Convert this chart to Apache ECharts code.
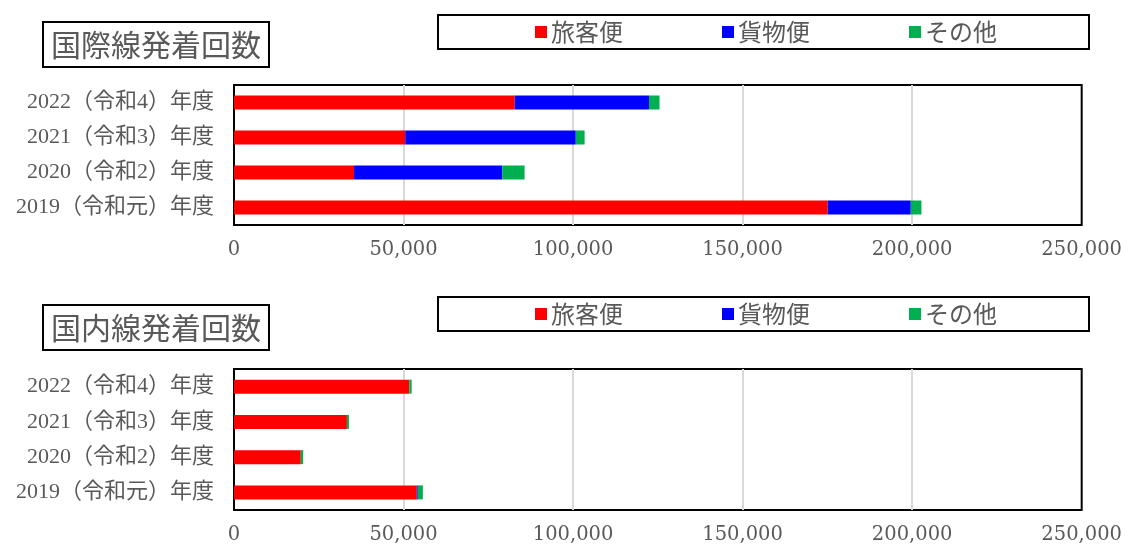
<!DOCTYPE html>
<html><head><meta charset="utf-8">
<script src="https://cdn.jsdelivr.net/npm/echarts@6/dist/echarts.min.js"></script>
<style>html,body{margin:0;padding:0;background:#fff}#c{width:1125px;height:547px}</style>
</head><body><div id="c"></div>
<script>
const categories = ['2019（令和元）年度','2020（令和2）年度','2021（令和3）年度','2022（令和4）年度'];
const seriesNames = ['旅客便','貨物便','その他'];
const intlPassenger = [175100, 35400, 50500, 82800];
const intlCargo     = [24500, 43700, 50300, 39600];
const intlOther     = [3150, 6600, 2600, 3100];
const domPassenger  = [53900, 19700, 33300, 51700];
const domCargo      = [300, 0, 0, 0];
const domOther      = [1500, 700, 600, 700];
const xTicks = [0, 50000, 100000, 150000, 200000, 250000];
const titles = ['国際線発着回数','国内線発着回数'];
const colors = ['#FF0000','#0000FF','#00B050'];

const txt = '#595959';
const cjk = "'Noto Sans CJK JP', 'Noto Sans', sans-serif";
const ynum = "'Liberation Serif', 'Noto Sans CJK JP', serif";
const xnum = "'DejaVu Serif', 'Liberation Serif', serif";
const chart = echarts.init(document.getElementById('c'));
const grids = [
  {left: 234, right: 41, top: 85, height: 140},
  {left: 234, right: 41, top: 369, height: 141}
];
function xAxis(i){
  return {type:'value', gridIndex:i, min:xTicks[0], max:xTicks[xTicks.length-1], interval:xTicks[1]-xTicks[0],
    axisLine:{show:false}, axisTick:{show:false},
    splitLine:{show:true, showMinLine:false, showMaxLine:false, lineStyle:{color:'#d9d9d9', width:2}},
    axisLabel:{margin:15, color:txt, fontSize:19.5, fontFamily:xnum,
      formatter:v=>v.toLocaleString('en-US')}};
}
function yAxis(i){
  return {type:'category', gridIndex:i, data:categories,
    axisLine:{show:false}, axisTick:{show:false},
    axisLabel:{margin:20, color:txt, fontSize:22, fontFamily:ynum}};
}
function legend(top){
  return {top:top, left:438, orient:'horizontal', data:seriesNames,
    icon:'rect', itemWidth:12, itemHeight:12, itemGap:99,
    borderColor:'#000', borderWidth:2, padding:[5,92,5,97], backgroundColor:'#fff',
    textStyle:{color:txt, fontSize:24, lineHeight:24, fontFamily:cjk, padding:[0,0,0,-1]}};
}
const dataSets = [[intlPassenger, intlCargo, intlOther],[domPassenger, domCargo, domOther]];
const series = [];
dataSets.forEach((set, gi) => {
  set.forEach((arr, si) => {
    series.push({name:seriesNames[si], type:'bar', stack:'s'+gi, xAxisIndex:gi, yAxisIndex:gi,
      data:arr, barWidth:14, itemStyle:{color:colors[si]}, emphasis:{disabled:true}});
  });
});
chart.setOption({
  animation:false,
  backgroundColor:'#fff',
  color:colors,
  title: titles.map((t,i)=>({text:t, left:43, top: i===0 ? 22 : 305,
    borderColor:'#000', borderWidth:2, padding:[7,8,7,8],
    textStyle:{color:txt, fontSize:30, lineHeight:31, fontWeight:'normal', fontFamily:cjk}})),
  legend:[legend(15), legend(297)],
  grid: grids.map(g=>Object.assign({show:true, borderColor:'#000', borderWidth:2, backgroundColor:'#fff'}, g)),
  xAxis:[xAxis(0), xAxis(1)],
  yAxis:[yAxis(0), yAxis(1)],
  series: series
});
</script></body></html>
